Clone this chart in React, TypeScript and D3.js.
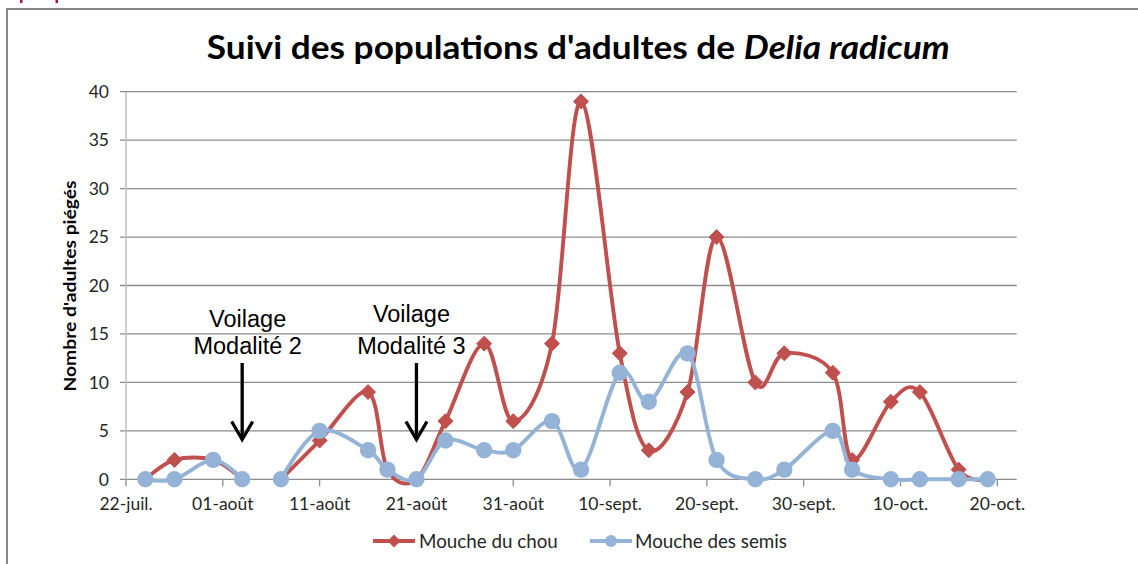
import React from "react";
import * as d3 from "d3";

// ---- Data ----
const dates = [
  "2013-07-24", "2013-07-27", "2013-07-31", "2013-08-03", "2013-08-05",
  "2013-08-07", "2013-08-11", "2013-08-16", "2013-08-18", "2013-08-21",
  "2013-08-24", "2013-08-28", "2013-08-31", "2013-09-04", "2013-09-07",
  "2013-09-11", "2013-09-14", "2013-09-18", "2013-09-21", "2013-09-25",
  "2013-09-28", "2013-10-03", "2013-10-05", "2013-10-09", "2013-10-12",
  "2013-10-16", "2013-10-19",
];
const moucheDuChou: (number | null)[] = [
  0, 2, 2, 0, null,
  0, 4, 9, 1, 0,
  6, 14, 6, 14, 39,
  13, 3, 9, 25, 10,
  13, 11, 2, 8, 9,
  1, 0,
];
const moucheDesSemis: (number | null)[] = [
  0, 0, 2, 0, null,
  0, 5, 3, 1, 0,
  4, 3, 3, 6, 1,
  11, 8, 13, 2, 0,
  1, 5, 1, 0, 0,
  0, 0,
];
const seriesNames = ["Mouche du chou", "Mouche des semis"];
const tickDates = [
  "2013-07-22", "2013-08-01", "2013-08-11", "2013-08-21", "2013-08-31",
  "2013-09-10", "2013-09-20", "2013-09-30", "2013-10-10", "2013-10-20",
];
const tickLabels = [
  "22-juil.", "01-août", "11-août", "21-août", "31-août",
  "10-sept.", "20-sept.", "30-sept.", "10-oct.", "20-oct.",
];
const yTicks = [0, 5, 10, 15, 20, 25, 30, 35, 40];
const annotations = [
  { date: "2013-08-03", lines: ["Voilage", "Modalité 2"], dx: 5.5, firstDy: 0 },
  { date: "2013-08-21", lines: ["Voilage", "Modalité 3"], dx: -5, firstDy: -5 },
];

// ---- Layout ----
const W = 1138;
const H = 564;
const left = 126;
const right = 1016.7;
const top = 91.7;
const bottom = 479.3;
const RED = "#C0504D";
const BLUE = "#95B3D7";

const parse = (s: string) => new Date(s + "T00:00:00Z");

export default function App() {
  const x = d3
    .scaleUtc()
    .domain([parse("2013-07-22"), parse("2013-10-22")])
    .range([left, right]);
  const y = d3.scaleLinear().domain([0, 40]).range([bottom, top]);

  type P = { d: Date; v: number | null };
  const red: P[] = dates.map((s, i) => ({ d: parse(s), v: moucheDuChou[i] }));
  const blue: P[] = dates.map((s, i) => ({ d: parse(s), v: moucheDesSemis[i] }));

  const line = d3
    .line<P>()
    .defined((p) => p.v != null)
    .x((p) => x(p.d))
    .y((p) => y(p.v as number))
    .curve(d3.curveCardinal.tension(0));

  const diamond = (cx: number, cy: number, r: number) =>
    `M${cx},${cy - r}L${cx + r},${cy}L${cx},${cy + r}L${cx - r},${cy}Z`;

  const tickFont = "Lato, Carlito, Calibri, sans-serif";

  return (
    <svg
      width={W}
      height={H}
      style={{ position: "absolute", left: 0, top: 0, background: "#fff" }}
    >
      <rect x={0} y={0} width={W} height={H} fill="#fff" />
      {/* cropped marks at top */}
      <rect x={20} y={0} width={2.5} height={3} fill="#A3145E" />
      <rect x={55.5} y={0} width={2.5} height={3} fill="#A3145E" />
      {/* outer border */}
      <path d={`M7,${H}V9H${W}`} fill="none" stroke="#878787" strokeWidth={2} />

      {/* title */}
      <text
        x={(206.5 + 950) / 2}
        y={58.5}
        textAnchor="middle"
        fontFamily={tickFont}
        fontWeight="bold"
        fontSize={32}
        fill="#000"
        textLength={743}
        lengthAdjust="spacingAndGlyphs"
      >
        Suivi des populations d'adultes de{" "}
        <tspan fontStyle="italic">Delia radicum</tspan>
      </text>

      {/* gridlines */}
      {yTicks.map((t) => (
        <g key={t}>
          <line x1={left - 6} x2={right} y1={y(t)} y2={y(t)} stroke="#8C8C8C" strokeWidth={1.3} />
          <text
            x={109}
            y={y(t)}
            dy="0.36em"
            textAnchor="end"
            fontFamily={tickFont}
            fontSize={17.5}
            fill="#262626"
          >
            {t}
          </text>
        </g>
      ))}
      {/* y axis line */}
      <line x1={left} x2={left} y1={top} y2={bottom} stroke="#BFBFBF" strokeWidth={1.5} />

      {/* x ticks & labels */}
      {tickDates.map((s, i) => {
        const xx = x(parse(s));
        return (
          <g key={s}>
            <line x1={xx} x2={xx} y1={bottom} y2={bottom + 7} stroke="#8C8C8C" strokeWidth={1.3} />
            <text
              x={xx}
              y={510}
              textAnchor="middle"
              fontFamily={tickFont}
              fontSize={17.5}
              fill="#262626"
            >
              {tickLabels[i]}
            </text>
          </g>
        );
      })}

      {/* y axis title */}
      <text
        transform={`translate(75.5,${286}) rotate(-90)`}
        textAnchor="middle"
        fontFamily={tickFont}
        fontWeight="bold"
        fontSize={17}
        fill="#000"
        textLength={211}
        lengthAdjust="spacingAndGlyphs"
      >
        Nombre d'adultes piégés
      </text>

      {/* series: red */}
      <path d={line(red) || ""} fill="none" stroke={RED} strokeWidth={3.9} strokeLinejoin="round" />
      {red
        .filter((p) => p.v != null)
        .map((p, i) => (
          <path key={"r" + i} d={diamond(x(p.d), y(p.v as number), 7.5)} fill={RED} stroke={RED} strokeWidth={1} />
        ))}
      {/* series: blue */}
      <path d={line(blue) || ""} fill="none" stroke={BLUE} strokeWidth={3.9} strokeLinejoin="round" />
      {blue
        .filter((p) => p.v != null)
        .map((p, i) => (
          <circle key={"b" + i} cx={x(p.d)} cy={y(p.v as number)} r={8.2} fill={BLUE} />
        ))}

      {/* annotations */}
      {annotations.map((a) => {
        const ax = x(parse(a.date));
        return (
          <g key={a.date}>
            <text
              x={ax + a.dx}
              y={326.7 + a.firstDy}
              textAnchor="middle"
              fontFamily="'Liberation Sans', Arial, sans-serif"
              fontSize={23.5}
              fill="#000"
            >
              {a.lines[0]}
            </text>
            <text
              x={ax + a.dx}
              y={354}
              textAnchor="middle"
              fontFamily="'Liberation Sans', Arial, sans-serif"
              fontSize={23.5}
              fill="#000"
            >
              {a.lines[1]}
            </text>
            <line x1={ax} x2={ax} y1={363} y2={439} stroke="#000" strokeWidth={3.3} />
            <path
              d={`M${ax - 10.5},${421.5}L${ax},${439.5}L${ax + 10.5},${421.5}`}
              fill="none"
              stroke="#000"
              strokeWidth={3.3}
            />
          </g>
        );
      })}

      {/* legend */}
      <g>
        <line x1={373} x2={415} y1={541} y2={541} stroke={RED} strokeWidth={3.8} />
        <path d={diamond(394, 541, 6.5)} fill={RED} />
        <text x={419} y={541} dy="0.36em" fontFamily={tickFont} fontSize={18.8} fill="#262626">
          {seriesNames[0]}
        </text>
        <line x1={590} x2={632} y1={541} y2={541} stroke={BLUE} strokeWidth={3.8} />
        <circle cx={611} cy={541} r={6} fill={BLUE} />
        <text x={635} y={541} dy="0.36em" fontFamily={tickFont} fontSize={18.8} fill="#262626">
          {seriesNames[1]}
        </text>
      </g>
    </svg>
  );
}
